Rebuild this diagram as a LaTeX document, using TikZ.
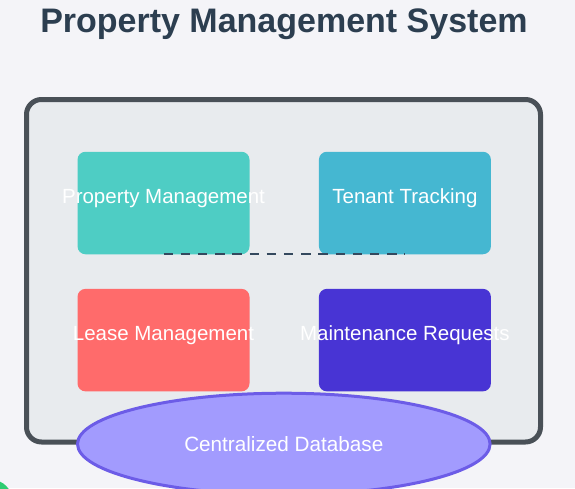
\documentclass[tikz,border=0pt]{standalone}
\usepackage{fontspec}
\setmainfont{Liberation Sans}
\usetikzlibrary{shapes.geometric, positioning}
\definecolor{pagebg}{HTML}{F4F4F8}
\definecolor{titlecol}{HTML}{2C3E50}
\definecolor{panelline}{HTML}{495057}
\definecolor{panelfill}{HTML}{E8EBEE}
\definecolor{propcol}{HTML}{4ECDC4}
\definecolor{tenantcol}{HTML}{45B7D1}
\definecolor{leasecol}{HTML}{FF6B6B}
\definecolor{maintcol}{HTML}{4834D4}
\definecolor{dbfill}{HTML}{A29BFE}
\definecolor{dbline}{HTML}{6C5CE7}
\definecolor{linkcol}{HTML}{34495E}
\definecolor{cornercol}{HTML}{2ECC71}
\tikzstyle{heading} = [anchor=base, text=titlecol, font=\bfseries\fontsize{34}{40}\selectfont]
\tikzstyle{panel} = [rectangle, rounded corners=15pt, minimum width=514pt, minimum height=342.5pt, line width=5pt, draw=panelline, fill=panelfill]
\tikzstyle{module} = [rectangle, rounded corners=8pt, minimum width=172pt, minimum height=102.5pt, inner sep=0pt]
\tikzstyle{modtext} = [anchor=base, inner sep=0pt, text=white, font=\fontsize{20.5}{24}\selectfont]
\tikzstyle{database} = [ellipse, minimum width=412.6pt, minimum height=101.6pt, inner sep=0pt, line width=3pt, draw=dbline, fill=dbfill, text=white, font=\fontsize{20.7}{24}\selectfont]
\tikzstyle{link} = [line width=2pt, draw=linkcol, dash pattern=on 9.5pt off 7.7pt]
\begin{document}
\begin{tikzpicture}[x=1pt, y=-1pt]
\fill [pagebg] (0,0) rectangle (575,488);
\useasboundingbox (0,0) rectangle (575,488);
\clip (0,0) rectangle (575,488);
\fill [cornercol] (-8,500) circle (20);

\node (title) [heading] at (284,32) {Property Management System};

\node (panel) [panel] at (283.5,270.75) {};

\node (prop) [module, fill=propcol] at (163.5,203) {};
\node (tenant) [module, fill=tenantcol, right=69pt of prop] {};
\node (lease) [module, fill=leasecol, below=34.2pt of prop] {};
\node (maint) [module, fill=maintcol, right=69pt of lease] {};
\draw [link] (prop.south) -- (tenant.south);

\node (propText) [modtext] at (prop.center) {Property Management};
\node (tenantText) [modtext] at (tenant.center) {Tenant Tracking};
\node (leaseText) [modtext] at (lease.center) {Lease Management};
\node (maintText) [modtext] at (maint.center) {Maintenance Requests};

\node (db) [database, yshift=-1pt] at (283.8,443) {Centralized Database};
\end{tikzpicture}
\end{document}
